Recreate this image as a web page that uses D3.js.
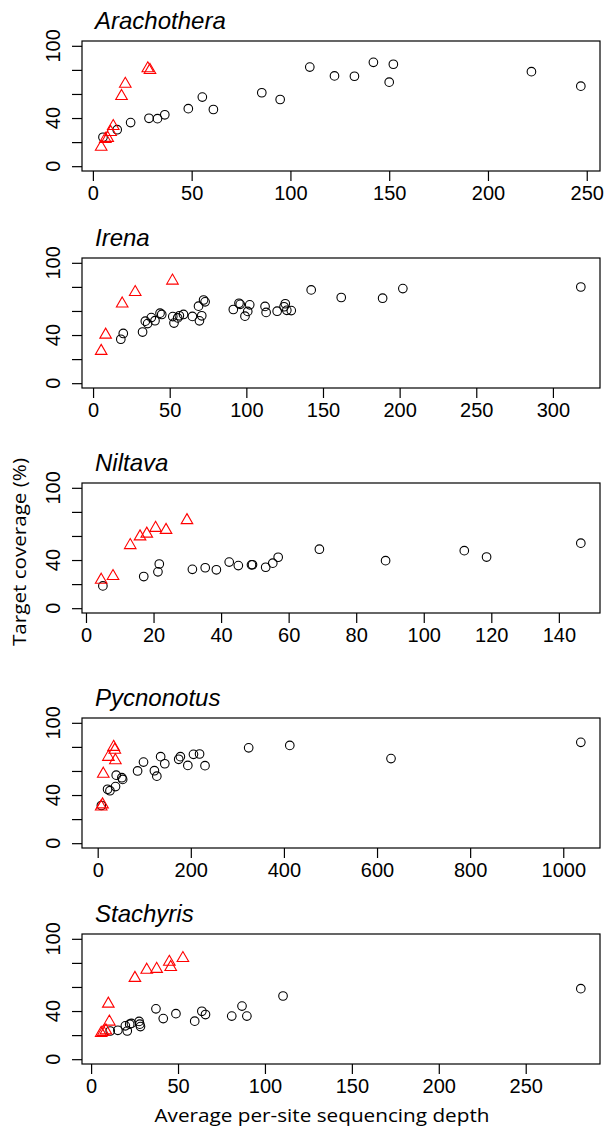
<!DOCTYPE html>
<html>
<head>
<meta charset="utf-8">
<script src="https://cdn.jsdelivr.net/npm/d3@7"></script>
<style>
  html, body { margin: 0; padding: 0; background: #fff; }
  svg { display: block; }
</style>
</head>
<body>
<svg id="chart" width="606" height="1129"></svg>
<script>
// ---------------- DATA ----------------
const panelNames = ["Arachothera", "Irena", "Niltava", "Pycnonotus", "Stachyris"];

// Arachothera
const arachCircleX = [5.1, 12.3, 19.1, 28.4, 32.7, 36.4, 48.3, 55.4, 61, 85.5, 94.8, 109.8, 122.3, 132.4, 142, 150, 152.1, 222, 247];
const arachCircleY = [24, 30.3, 36.2, 39.8, 39.5, 42.7, 47.8, 57.4, 47.1, 61, 55.4, 82.3, 75, 74.7, 86.3, 69.8, 84.7, 78.5, 66.5];
const arachTriX = [4.2, 6.3, 7.5, 9, 10.3, 14.5, 16.4, 27.8, 28.9];
const arachTriY = [16, 22.6, 23.4, 28.3, 33.2, 58.2, 68.3, 81.2, 79.8];

// Irena
const irenaCircleX = [18.1, 19.7, 32.3, 34.1, 35.6, 38, 40.4, 43.7, 44.8, 52, 52.8, 55.2, 56.3, 59, 64.8, 68.8, 69.4, 70.9, 72.1, 73.1, 91.5, 95.2, 96, 99.1, 100.9, 102.2, 112.2, 112.9, 120.1, 124.6, 125.4, 126.4, 129.3, 142.3, 161.9, 188.9, 202.1, 318.2];
const irenaCircleY = [36.5, 41.3, 42.5, 51.5, 49.5, 54.5, 51.9, 58.2, 57.1, 55.3, 49.9, 54.2, 56, 57.1, 55.5, 64, 51.8, 56, 69.1, 67.6, 61.2, 66.4, 65.5, 55.7, 59.6, 65.1, 63.8, 58.8, 59.8, 63.5, 66, 60.5, 60.3, 77.5, 71.2, 70.6, 78.6, 79.9];
const irenaTriX = [5.3, 8.2, 19, 27.5, 51.8];
const irenaTriY = [26.7, 40.2, 66.1, 75.6, 85.1];

// Niltava
const niltCircleX = [5, 17.1, 21.3, 21.7, 31.5, 35.3, 38.6, 42.4, 45.1, 49, 49.3, 53.2, 55.3, 56.9, 69.1, 88.7, 112, 118.6, 146.5];
const niltCircleY = [18.5, 26.3, 30.2, 36.7, 32.3, 33.6, 31.9, 38.3, 35.4, 36, 36.1, 34, 37.4, 42.3, 49, 39.5, 47.8, 42.5, 54];
const niltTriX = [4.5, 8, 13.1, 16, 18, 20.6, 23.7, 29.9];
const niltTriY = [23.5, 26.6, 52.3, 59.5, 61.8, 66.6, 64.9, 73];

// Pycnonotus
const pycnoCircleX = [7.9, 21.2, 26.3, 38.3, 39.8, 51.9, 53.6, 85.7, 98.4, 121.8, 127, 135.2, 144.1, 174, 177.6, 193.6, 205.7, 218.8, 230.5, 324.3, 412.6, 630, 1037.7];
const pycnoCircleY = [31.3, 44.8, 43.6, 47, 56.5, 54.4, 53, 60, 67.4, 60.2, 55.7, 71.9, 66, 69.7, 71.9, 64.6, 73.8, 74.1, 64.4, 79.2, 81.2, 70.3, 83.8];
const pycnoTriX = [7.5, 10.4, 12, 23, 34.3, 36.8, 38];
const pycnoTriY = [30.4, 32.1, 57.6, 71.6, 79.9, 77.5, 68.8];

// Stachyris
const stachCircleX = [11, 15.4, 19.7, 20.8, 22.2, 23.2, 27.6, 28, 28.4, 37.3, 41.5, 48.8, 59.6, 63.7, 65.8, 80.9, 86.8, 89.6, 110.4, 281.7];
const stachCircleY = [23.4, 24, 27.7, 23.4, 29.1, 29.7, 31.4, 29.1, 27.1, 41.8, 33.7, 37.8, 31.6, 39.8, 37.1, 35.8, 44.1, 35.8, 52.5, 58.6];
const stachTriX = [5.8, 7, 8.5, 10.5, 9.9, 25.2, 32, 37.7, 45, 45.8, 52.8];
const stachTriY = [21.7, 22.6, 23.8, 31.1, 46, 67.4, 74.2, 74.9, 80.8, 76.5, 83.9];

// Tick values
const arachXTicks = [0, 50, 100, 150, 200, 250];
const irenaXTicks = [0, 50, 100, 150, 200, 250, 300];
const niltXTicks = [0, 20, 40, 60, 80, 100, 120, 140];
const pycnoXTicks = [0, 200, 400, 600, 800, 1000];
const stachXTicks = [0, 50, 100, 150, 200, 250];
const yTicks = [0, 20, 40, 60, 80, 100];
const yTickLabels = [0, 40, 100];
const yLimits = [0, 100];

const xTitle = "Average per-site sequencing depth";
const yTitle = "Target coverage (%)";

// ---------------- LAYOUT ----------------
const panels = [
  { name: panelNames[0], cx: arachCircleX, cy: arachCircleY, tx: arachTriX, ty: arachTriY, ticks: arachXTicks, top: 41 },
  { name: panelNames[1], cx: irenaCircleX, cy: irenaCircleY, tx: irenaTriX, ty: irenaTriY, ticks: irenaXTicks, top: 258 },
  { name: panelNames[2], cx: niltCircleX, cy: niltCircleY, tx: niltTriX, ty: niltTriY, ticks: niltXTicks, top: 483 },
  { name: panelNames[3], cx: pycnoCircleX, cy: pycnoCircleY, tx: pycnoTriX, ty: pycnoTriY, ticks: pycnoXTicks, top: 718 },
  { name: panelNames[4], cx: stachCircleX, cy: stachCircleY, tx: stachTriX, ty: stachTriY, ticks: stachXTicks, top: 934 }
];

const boxLeft = 82, boxRight = 600, boxH = 130;
const tickFont = "'Liberation Sans', Arial, Helvetica, sans-serif";
const svg = d3.select("#chart");

// R-style symbol sizes
const rad = 4.3;
const triPath = (() => {
  const top = -1.5551 * rad, bot = 0.7776 * rad, hw = 1.3468 * rad;
  return `M0,${top}L${hw},${bot}L${-hw},${bot}Z`;
})();

const yLabX = 60;

panels.forEach(p => {
  const allX = p.cx.concat(p.tx);
  const [mn, mx] = d3.extent(allX);
  const pad = (mx - mn) * 0.04;
  const x = d3.scaleLinear().domain([mn - pad, mx + pad]).range([boxLeft, boxRight]);
  const ypad = (yLimits[1] - yLimits[0]) * 0.04;
  const y = d3.scaleLinear().domain([yLimits[0] - ypad, yLimits[1] + ypad]).range([p.top + boxH, p.top]);

  const g = svg.append("g");

  // x axis
  const xa = g.append("g")
    .attr("transform", `translate(0,${p.top + boxH})`)
    .call(d3.axisBottom(x).tickValues(p.ticks).tickSize(10).tickSizeOuter(0).tickFormat(d3.format("d")));
  xa.select(".domain").remove();
  xa.selectAll(".tick line").attr("stroke", "#000").attr("stroke-width", 1.2);
  xa.selectAll(".tick text")
    .attr("y", 29).attr("dy", null)
    .attr("font-family", tickFont).attr("font-size", 20).attr("fill", "#000");

  // y axis
  const ya = g.append("g")
    .attr("transform", `translate(${boxLeft},0)`)
    .call(d3.axisLeft(y).tickValues(yTicks).tickSize(10).tickSizeOuter(0).tickFormat(""));
  ya.select(".domain").remove();
  ya.selectAll(".tick line").attr("stroke", "#000").attr("stroke-width", 1.2);

  g.selectAll("text.ylab").data(yTickLabels).enter().append("text")
    .attr("class", "ylab")
    .attr("x", yLabX).attr("y", d => y(d))
    .attr("transform", d => `rotate(-90,${yLabX},${y(d)})`)
    .attr("text-anchor", "middle")
    .attr("font-family", tickFont).attr("font-size", 20).attr("fill", "#000")
    .text(d => d);

  // points: circles first, then triangles
  const circ = p.cx.map((v, i) => [v, p.cy[i]]);
  const tri = p.tx.map((v, i) => [v, p.ty[i]]);
  g.selectAll("circle.pt").data(circ).enter().append("circle")
    .attr("class", "pt")
    .attr("cx", d => x(d[0])).attr("cy", d => y(d[1])).attr("r", rad)
    .attr("fill", "none").attr("stroke", "#000").attr("stroke-width", 1.1);
  g.selectAll("path.tri").data(tri).enter().append("path")
    .attr("class", "tri")
    .attr("d", triPath)
    .attr("transform", d => `translate(${x(d[0])},${y(d[1])})`)
    .attr("fill", "none").attr("stroke", "#ff0000").attr("stroke-width", 1.1);

  // box
  g.append("rect")
    .attr("x", boxLeft).attr("y", p.top)
    .attr("width", boxRight - boxLeft).attr("height", boxH)
    .attr("fill", "none").attr("stroke", "#000").attr("stroke-width", 1.2);

  // title
  g.append("text")
    .attr("x", 95).attr("y", p.top - 12)
    .attr("font-family", tickFont).attr("font-style", "italic").attr("font-size", 24)
    .attr("fill", "#000")
    .text(p.name);
});

// axis titles
svg.append("text")
  .attr("x", 322).attr("y", 1122)
  .attr("text-anchor", "middle")
  .attr("font-family", "'Open Sans', 'Noto Sans', sans-serif").attr("font-size", 18)
  .attr("textLength", 335).attr("lengthAdjust", "spacingAndGlyphs")
  .attr("fill", "#000")
  .text(xTitle);

svg.append("text")
  .attr("x", 26).attr("y", 552)
  .attr("transform", "rotate(-90,26,552)")
  .attr("text-anchor", "middle")
  .attr("font-family", "'Open Sans', 'Noto Sans', sans-serif").attr("font-size", 18)
  .attr("textLength", 188).attr("lengthAdjust", "spacingAndGlyphs")
  .attr("fill", "#000")
  .text(yTitle);
</script>
</body>
</html>
